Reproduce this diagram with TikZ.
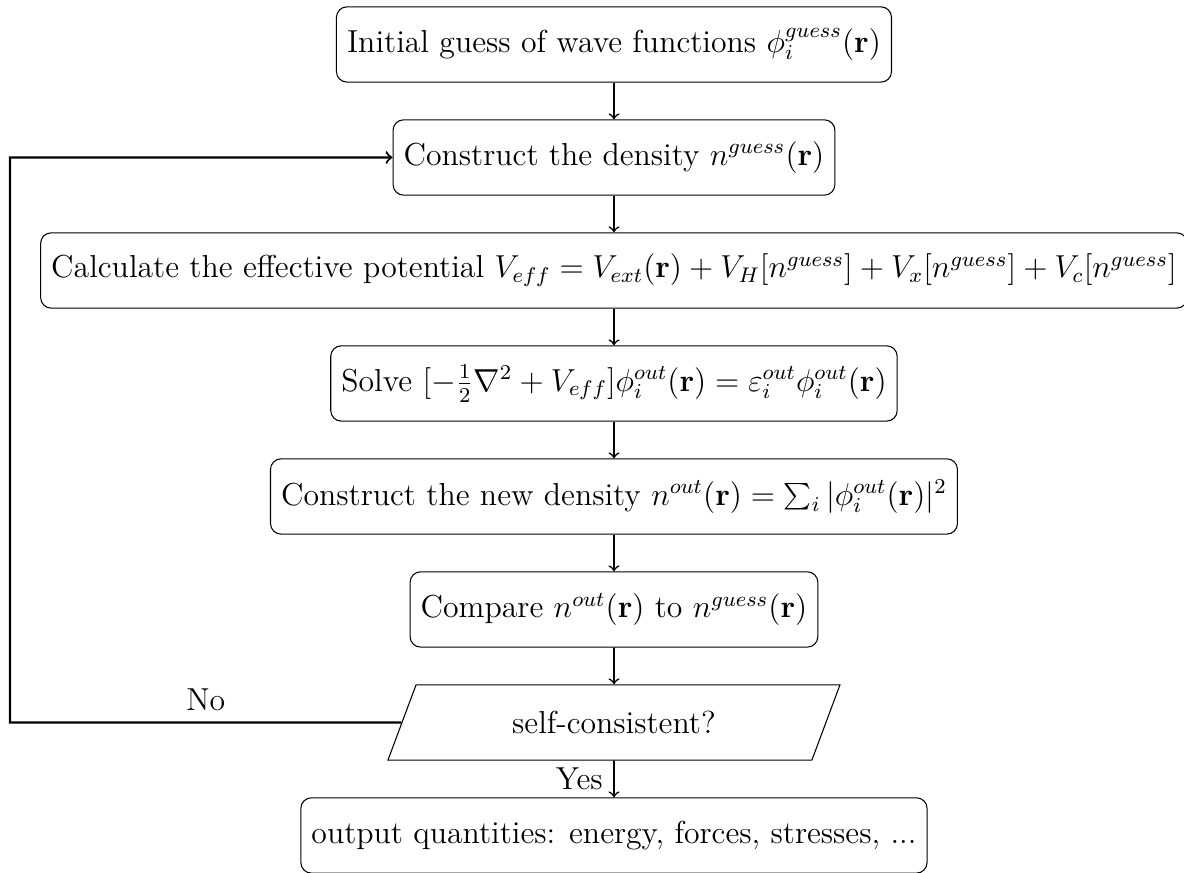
\documentclass[12pt,tikz,border=0pt]{standalone}
\usetikzlibrary{shapes.geometric}
\begin{document}
\begin{tikzpicture}[
  stepbox/.style={draw, rounded corners, minimum height=1cm, inner sep=0.333em},
  decision/.style={draw, trapezium, trapezium left angle=70, trapezium right angle=110, trapezium stretches=true, minimum width=171pt, minimum height=1cm},
  flow/.style={->, semithick},
  loopline/.style={->, thick}
]
\useasboundingbox (-231.9pt,16.8pt) rectangle (215.3pt,-312.6pt);
\node[stepbox] (init) at (0,0) {Initial guess of wave functions $\phi_i^{guess}(\mathbf{r})$};
\node[stepbox] (dens) at (0,-1.5) {Construct the density $n^{guess}(\mathbf{r})$};
\node[stepbox] (pot) at (0,-3) {Calculate the effective potential $V_{eff} = V_{ext}(\mathbf{r}) + V_H[n^{guess}] + V_x[n^{guess}] + V_c[n^{guess}]$};
\node[stepbox] (solve) at (0,-4.5) {Solve $[-\frac{1}{2}\nabla^2 + V_{eff}]\phi_i^{out}(\mathbf{r}) = \varepsilon_i^{out}\phi_i^{out}(\mathbf{r})$};
\node[stepbox] (newd) at (0,-6) {Construct the new density $n^{out}(\mathbf{r}) = \sum_i |\phi_i^{out}(\mathbf{r})|^2$};
\node[stepbox] (comp) at (0,-7.5) {Compare $n^{out}(\mathbf{r})$ to $n^{guess}(\mathbf{r})$};
\node[decision] (sc) at (0,-9) {self-consistent?};
\node[stepbox] (out) at (0,-10.5) {output quantities: energy, forces, stresses, ...};
\coordinate (loopc) at (-228.1pt,-9);
\draw[flow] (init) -- (dens);
\draw[flow] (dens) -- (pot);
\draw[flow] (pot) -- (solve);
\draw[flow] (solve) -- (newd);
\draw[flow] (newd) -- (comp);
\draw[flow] (comp) -- (sc);
\draw[flow] (sc) -- node[left] {Yes} (out);
\draw[loopline] (sc.west) -- node[above] {No} (loopc) |- (dens.west);
\end{tikzpicture}
\end{document}
